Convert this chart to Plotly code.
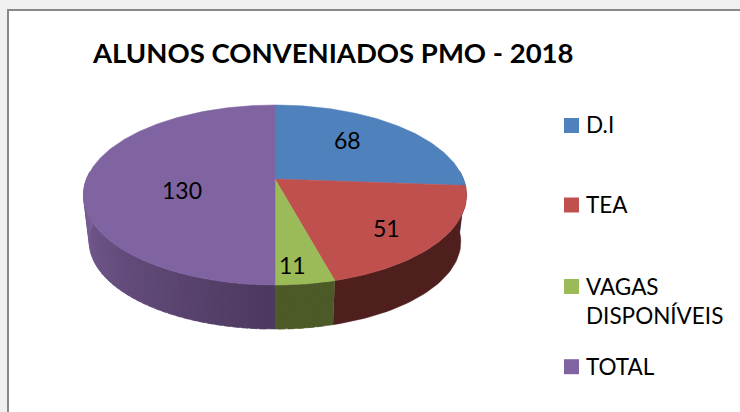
import math
import plotly.graph_objects as go

# Data
categories = ["D.I", "TEA", "VAGAS<br>DISPONÍVEIS", "TOTAL"]
values = [68, 51, 11, 130]
title_text = "ALUNOS CONVENIADOS PMO - 2018"

# Styles
top_colors = ["#4F81BD", "#C0504D", "#9BBB59", "#8064A2"]
side_light = [(50, 80, 120), (79, 31, 30), (82, 100, 44), (124, 97, 155)]
side_dark = [(50, 80, 120), (79, 31, 30), (76, 90, 40), (76, 56, 94)]
FONT = "Lato"

# Pie geometry (pixel axes)
CX, CY, A, B, K = 275.0, 179.0, 188.5, 87.2, -0.178
DEPTH, SCALE = 47.2, 0.97

def project(theta, bottom=False):
    u, v = math.sin(theta), -math.cos(theta)
    d = 1 + K * v
    s, off = (SCALE, DEPTH) if bottom else (1.0, 0.0)
    return CX + s * A * u / d, CY + off + s * B * v / d

total = sum(values)
fig = go.Figure()
angles = []
acc = 0
for v in values:
    angles.append((acc / total * 2 * math.pi, (acc + v) / total * 2 * math.pi))
    acc += v

def arc(a0, a1, n, bottom=False):
    return [project(a0 + (a1 - a0) * i / n, bottom=bottom) for i in range(n + 1)]

def poly(pts, color):
    fig.add_trace(go.Scatter(x=[p[0] for p in pts], y=[p[1] for p in pts], mode="lines",
                             fill="toself", fillcolor=color, line=dict(color=color, width=0.5),
                             hoverinfo="skip", showlegend=False))

# Side walls: visible front part of each slice, shaded in overlapping strips
VIS0, VIS1 = math.radians(85), math.radians(275)
for (a0, a1), lo, hi in zip(angles, side_light, side_dark):
    a0v, a1v = max(a0, VIS0), min(a1, VIS1)
    if a1v <= a0v:
        continue
    if lo == hi:
        poly(arc(a0v, a1v, 40) + arc(a1v, a0v, 40, bottom=True), "rgb(%d,%d,%d)" % lo)
        continue
    strips = max(1, int((a1v - a0v) / 0.04))
    for i in range(strips):
        t0 = a0v + (a1v - a0v) * i / strips
        t1 = min(a1v, t0 + (a1v - a0v) / strips + 0.03)
        mid = (t0 + t1) / 2
        w = max(0.0, min(1.0, (VIS1 - mid) / (VIS1 - math.pi))) if mid >= math.pi else 1.0
        col = tuple(round(l + (h - l) * w) for l, h in zip(lo, hi))
        poly(arc(t0, t1, 3) + arc(t1, t0, 3, bottom=True), "rgb(%d,%d,%d)" % col)

# Top faces
for (a0, a1), c in zip(angles, top_colors):
    n = max(4, int((a1 - a0) * 60))
    poly([(CX, CY)] + arc(a0, a1, n) + [(CX, CY)], c)

# Data labels
label_px = [(347, 140), (386, 228), (292, 265), (182, 190)]
for (x, y), v in zip(label_px, values):
    fig.add_annotation(x=x, y=y, text=str(v), showarrow=False, xanchor="center", yanchor="middle",
                       font=dict(family=FONT, size=23, color="#000000"))

# Legend
legend_y = [125.5, 205, 286.5, 366.7]
legend_text_y = [124, 204, 301, 366]
fig.add_trace(go.Scatter(x=[571.5] * 4, y=legend_y, mode="markers",
                         marker=dict(symbol="square", size=15, color=top_colors, line=dict(width=0)),
                         hoverinfo="skip", showlegend=False))
for name, y in zip(categories, legend_text_y):
    fig.add_annotation(x=584, y=y, text=name, showarrow=False, xanchor="left", yanchor="middle", align="left",
                       font=dict(family=FONT, size=22.5, color="#000000"))

fig.add_annotation(x=332.5, y=52.5, text="<b>%s</b>" % title_text, showarrow=False, xanchor="center", yanchor="middle",
                   font=dict(family=FONT, size=27.5, color="#000000"))

# Page frame
fig.add_shape(type="rect", xref="paper", yref="paper", x0=0, x1=1, y0=0, y1=1,
              fillcolor="#F0F0F0", line=dict(width=0), layer="below")
fig.add_shape(type="rect", x0=8, x1=760, y0=10, y1=430,
              fillcolor="#FFFFFF", line=dict(color="#888888", width=2), layer="below")

fig.update_xaxes(range=[0, 740], visible=False, fixedrange=True)
fig.update_yaxes(range=[412, 0], visible=False, fixedrange=True)
fig.update_layout(width=740, height=412, margin=dict(l=0, r=0, t=0, b=0), showlegend=False,
                  paper_bgcolor="#F0F0F0", plot_bgcolor="#FFFFFF")
fig.write_html("out.html", config={"displayModeBar": False},
               post_script="document.body.style.margin='0';document.body.style.overflow='hidden';")
